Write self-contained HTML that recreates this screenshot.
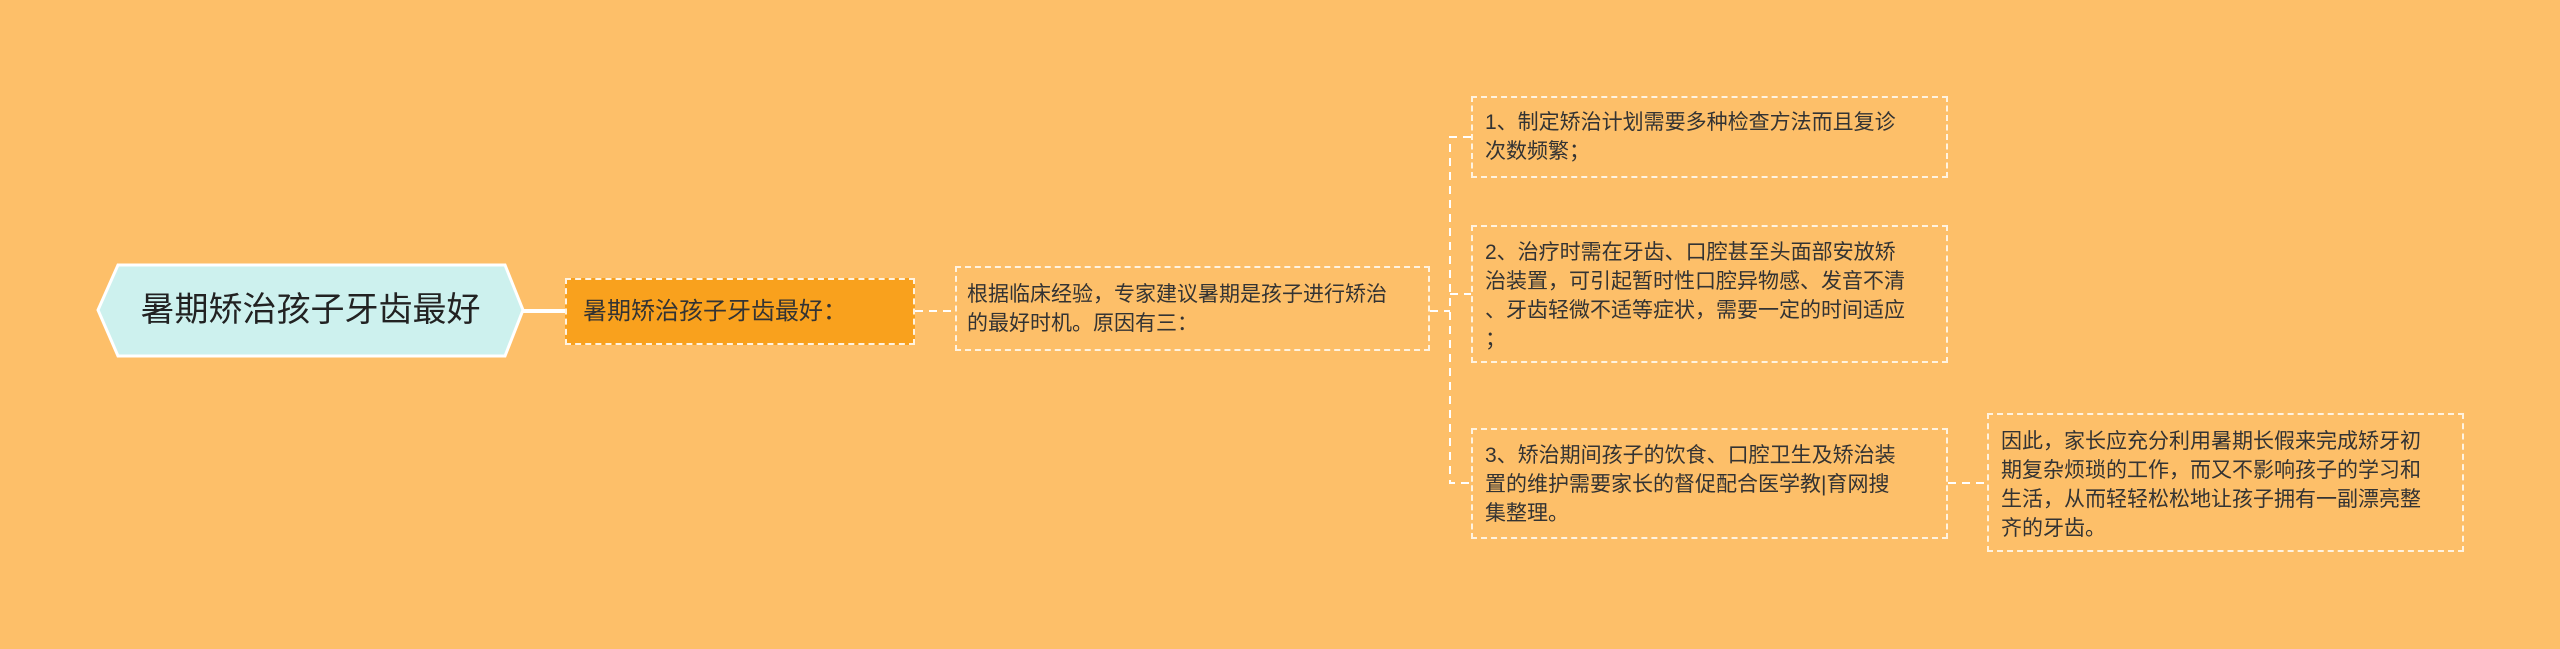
<!DOCTYPE html>
<html><head><meta charset="utf-8"><style>
body{margin:0;width:2560px;height:649px;background:#fdbf69;position:relative;overflow:hidden;font-family:"Liberation Sans","Noto Sans CJK SC",sans-serif;color:#333}
.b{position:absolute;box-sizing:border-box;border:2px dashed #fff3e0;font-size:21px;line-height:29px;padding:10px 12px;white-space:nowrap}
</style></head><body>
<svg width="2560" height="649" style="position:absolute;left:0;top:0">
<polygon points="118,265 505,265 523,310 505,356 118,356 98,310" fill="#cdf1ee" stroke="#fff" stroke-width="3"/>
<line x1="523" y1="311" x2="565" y2="311" stroke="#fff" stroke-width="4"/>
<g stroke="#fff" stroke-width="2" stroke-dasharray="8,6" fill="none">
<line x1="915" y1="311" x2="955" y2="311"/>
<line x1="1430" y1="311" x2="1450" y2="311"/>
<polyline points="1471,137 1450,137 1450,483 1471,483"/>
<line x1="1450" y1="294" x2="1471" y2="294"/>
<line x1="1948" y1="483" x2="1987" y2="483"/>
</g>
</svg>
<div style="position:absolute;left:98px;top:265px;width:425px;height:91px;line-height:91px;text-align:center;font-size:34px;color:#222">暑期矫治孩子牙齿最好</div>
<div class="b" style="left:565px;top:278px;width:350px;height:67px;background:#f9a11d;font-size:24px;line-height:45px;padding:9px 16px">暑期矫治孩子牙齿最好：</div>
<div class="b" style="left:955px;top:266px;width:475px;height:85px;padding:12px 10px">根据临床经验，专家建议暑期是孩子进行矫治<br>的最好时机。原因有三：</div>
<div class="b" style="left:1471px;top:96px;width:477px;height:82px">1、制定矫治计划需要多种检查方法而且复诊<br>次数频繁；</div>
<div class="b" style="left:1471px;top:225px;width:477px;height:138px;padding:11px 12px;line-height:29px">2、治疗时需在牙齿、口腔甚至头面部安放矫<br>治装置，可引起暂时性口腔异物感、发音不清<br>、牙齿轻微不适等症状，需要一定的时间适应<br>；</div>
<div class="b" style="left:1471px;top:428px;width:477px;height:111px;padding:11px 12px">3、矫治期间孩子的饮食、口腔卫生及矫治装<br>置的维护需要家长的督促配合医学教|育网搜<br>集整理。</div>
<div class="b" style="left:1987px;top:413px;width:477px;height:139px;padding:12px 12px">因此，家长应充分利用暑期长假来完成矫牙初<br>期复杂烦琐的工作，而又不影响孩子的学习和<br>生活，从而轻轻松松地让孩子拥有一副漂亮整<br>齐的牙齿。</div>
</body></html>
